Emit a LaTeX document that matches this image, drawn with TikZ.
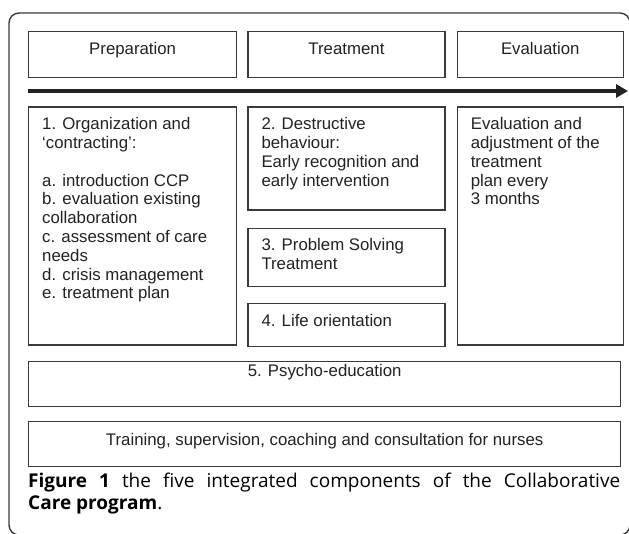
\documentclass[tikz,border=0pt]{standalone}
\usepackage{fontspec}
\usepackage{tikz}
\usetikzlibrary{positioning}
\usetikzlibrary{arrows.meta}
\newfontfamily\schemefont{Liberation Sans}
\newfontfamily\capfont{Open Sans}
\newcommand{\schemesize}{\fontsize{16.8pt}{18.8pt}\selectfont}
\definecolor{linegray}{HTML}{3A3A3A}
\definecolor{textgray}{HTML}{222222}
\tikzset {
  % boxes of the scheme
  box/.style = {draw=linegray, line width=1.3pt, inner sep=0pt},
  % text at the top of a box, centred or on the left
  headtext/.style = {anchor=north, inner xsep=0pt, inner ysep=11pt, text height=12pt, text depth=3.5pt,
                     text=textgray, font=\schemefont\schemesize},
  boxtext/.style = {anchor=north west, inner xsep=14pt, inner ysep=11pt, align=left, text=textgray, font=\schemefont\schemesize},
  % frame, time line and caption
  frame/.style = {draw=linegray, line width=1.4pt, rounded corners=10pt},
  timeline/.style = {line width=4pt, textgray, -{Triangle[length=12pt, width=13pt]}},
  captext/.style = {inner sep=0pt, align=left, text=black, font=\capfont\fontsize{19pt}{22pt}\selectfont},
}

\begin{document}
\begin{tikzpicture}[x=1pt, y=-1pt]
        \useasboundingbox (0,0) rectangle (629,533);
        \draw[frame] (9,13) rectangle (630,535);

        % phases
        \node[box, minimum width=208pt, minimum height=46pt, anchor=north west,
              label={[headtext]north:Preparation}] (prep) at (28,31) {};
        \node[box, minimum width=197pt, minimum height=46pt, right=10pt of prep,
              label={[headtext]north:Treatment}] (treat) {};
        \node[box, minimum width=166pt, minimum height=46pt, right=11pt of treat,
              label={[headtext]north:Evaluation}] (evalu) {};

        \coordinate (arrowL) at (28,91);
        \coordinate (arrowR) at (628,91);
        \draw[timeline] (arrowL) -- (arrowR);

        % components
        \node[box, minimum width=208pt, minimum height=238pt, below=28pt of prep,
              label={[boxtext]north west:{1. Organization and\\‘contracting’:\\[18.8pt]a. introduction CCP\\b. evaluation existing\\collaboration\\c. assessment of care\\needs\\d. crisis management\\e. treatment plan}}] (org) {};
        \node[box, minimum width=197pt, minimum height=103pt, below=28pt of treat,
              label={[boxtext]north west:{2. Destructive\\behaviour:\\Early recognition and\\early intervention}}] (destr) {};
        \node[box, minimum width=197pt, minimum height=58pt, below=17pt of destr,
              label={[boxtext]north west:{3. Problem Solving\\Treatment}}] (pst) {};
        \node[box, minimum width=197pt, minimum height=43pt, below=16pt of pst,
              label={[boxtext]north west:{4. Life orientation}}] (life) {};
        \node[box, minimum width=166pt, minimum height=238pt, below=28pt of evalu,
              label={[boxtext]north west:{Evaluation and\\adjustment of the\\treatment\\plan every\\3 months}}] (evaladj) {};

        \node[box, minimum width=592pt, minimum height=45pt, below=15pt of org.south west, anchor=north west,
              label={[headtext, inner ysep=4pt]north:5. Psycho-education}] (psyed) {};
        \node[box, minimum width=592pt, minimum height=45pt, below=14pt of psyed,
              label={[headtext, inner ysep=12pt]north:Training, supervision, coaching and consultation for nurses}] (train) {};

        \node[captext, anchor=north west] (cap) at (28,473)
              {\makebox[592pt][s]{\textbf{Figure 1} the five integrated components of the Collaborative}\\\textbf{Care program}.};
      \end{tikzpicture}
\end{document}
